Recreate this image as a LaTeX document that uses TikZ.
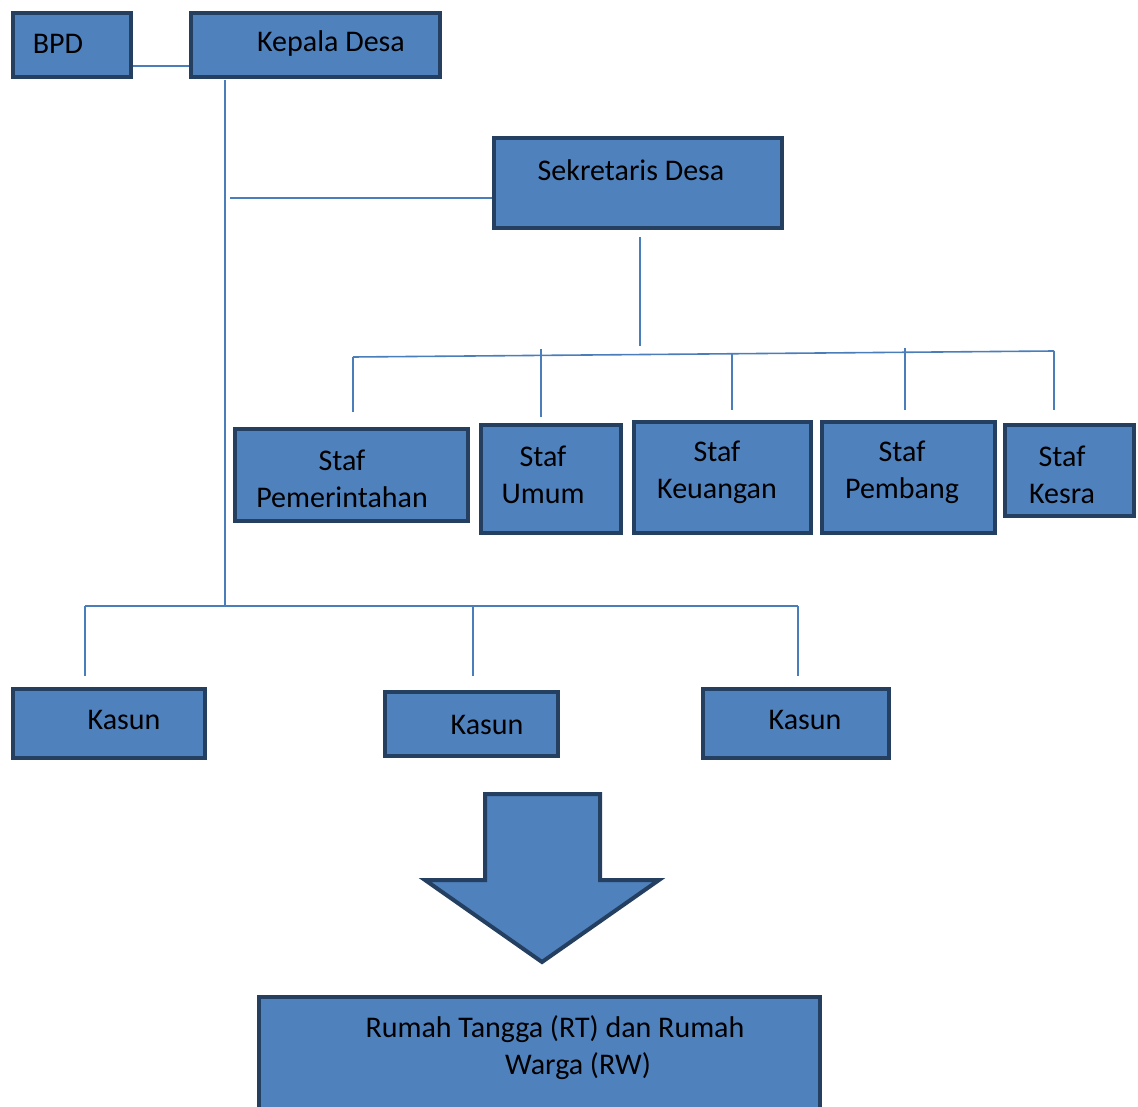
\documentclass[tikz,border=0pt]{standalone}
\usepackage{fontspec}
\setmainfont{Carlito}
\definecolor{boxfill}{HTML}{4F81BD}
\definecolor{boxline}{HTML}{243F60}
\definecolor{connline}{HTML}{4A7EBB}
\begin{document}
\begin{tikzpicture}[x=1pt,y=-1pt,
  box/.style={draw=boxline, fill=boxfill, line width=4pt, rectangle, inner sep=0pt},
  txt/.style={inner sep=0pt, font=\fontsize{30}{37}\selectfont, align=center, text=black},
  conn/.style={draw=connline, line width=1.6pt}]
\useasboundingbox (0,0) rectangle (1138,1107);
% boxes
\node[box, minimum width=118, minimum height=64] (bpd) at (72,45) {};
\node[box, minimum width=249, minimum height=64] (kd) at (315.5,45) {};
\node[box, minimum width=288, minimum height=90] (sd) at (638,183) {};
\node[box, minimum width=233, minimum height=92] (sp) at (351.5,475) {};
\node[box, minimum width=140, minimum height=108] (su) at (551,479) {};
\node[box, minimum width=177, minimum height=111] (sk) at (722.5,477.5) {};
\node[box, minimum width=173, minimum height=111] (spb) at (908.5,477.5) {};
\node[box, minimum width=129, minimum height=91] (sks) at (1069.5,470.5) {};
\node[box, minimum width=192, minimum height=69] (k1) at (109,723.5) {};
\node[box, minimum width=173, minimum height=64] (k2) at (471.5,724) {};
\node[box, minimum width=186, minimum height=69] (k3) at (796,723.5) {};
\node[box, minimum width=561, minimum height=131] (rt) at (539.5,1062.5) {};
% texts
\node[txt] (tbpd) at (58,44) {BPD};
\node[txt] (tkd) at (331,44) {Kepala Desa};
\node[txt] (tsd) at (631,170) {Sekretaris Desa};
\node[txt] (tsp) at (342,479) {Staf\\Pemerintahan};
\node[txt] (tsu) at (543,475) {Staf\\Umum};
\node[txt] (tsk) at (717,472) {Staf\\Keuangan};
\node[txt] (tspb) at (902,472) {Staf\\Pembang};
\node[txt] (tsks) at (1062,475) {Staf\\Kesra};
\node[txt] (tk1) at (124,720) {Kasun};
\node[txt] (tk2) at (487,725) {Kasun};
\node[txt] (tk3) at (805,720) {Kasun};
\node[txt] (trt1) at (555,1029) {Rumah Tangga (RT) dan Rumah};
\node[txt] (trt2) at (578,1066) {Warga (RW)};
% arrow
\draw[draw=boxline, fill=boxfill, line width=4pt, line join=miter]
  (485,794) -- (600,794) -- (600,880) -- (659,880) -- (542,962) -- (425,880) -- (485,880) -- cycle;
% connector coordinates
\coordinate (j1) at (0,66);
\coordinate (trunkTop) at (225,80);
\coordinate (trunkBot) at (225,606);
\coordinate (s1) at (230,198);
\coordinate (sdDown) at (640,237);
\coordinate (sdBus) at (640,346);
\coordinate (busL) at (353,357);
\coordinate (busR) at (1054,351);
\coordinate (d2) at (541,349);
\coordinate (d3) at (732,354);
\coordinate (d4) at (905,348);
\coordinate (kbL) at (85,606);
\coordinate (kbM) at (473,606);
\coordinate (kbR) at (798,606);
% connectors
\draw[conn] (bpd.east|-j1) -- (kd.west|-j1);
\draw[conn] (trunkTop) -- (trunkBot);
\draw[conn] (s1) -- (s1-|sd.west);
\draw[conn] (sdDown) -- (sdBus);
\draw[conn] (busL) -- (busR);
\draw[conn] (busL) -- (353,412);
\draw[conn] (d2) -- (541,417);
\draw[conn] (d3) -- (732,410);
\draw[conn] (d4) -- (905,410);
\draw[conn] (busR) -- (1054,410);
\draw[conn] (kbL) -- (kbR);
\draw[conn] (kbL) -- (85,676);
\draw[conn] (kbM) -- (473,676);
\draw[conn] (kbR) -- (798,676);
\end{tikzpicture}
\end{document}
